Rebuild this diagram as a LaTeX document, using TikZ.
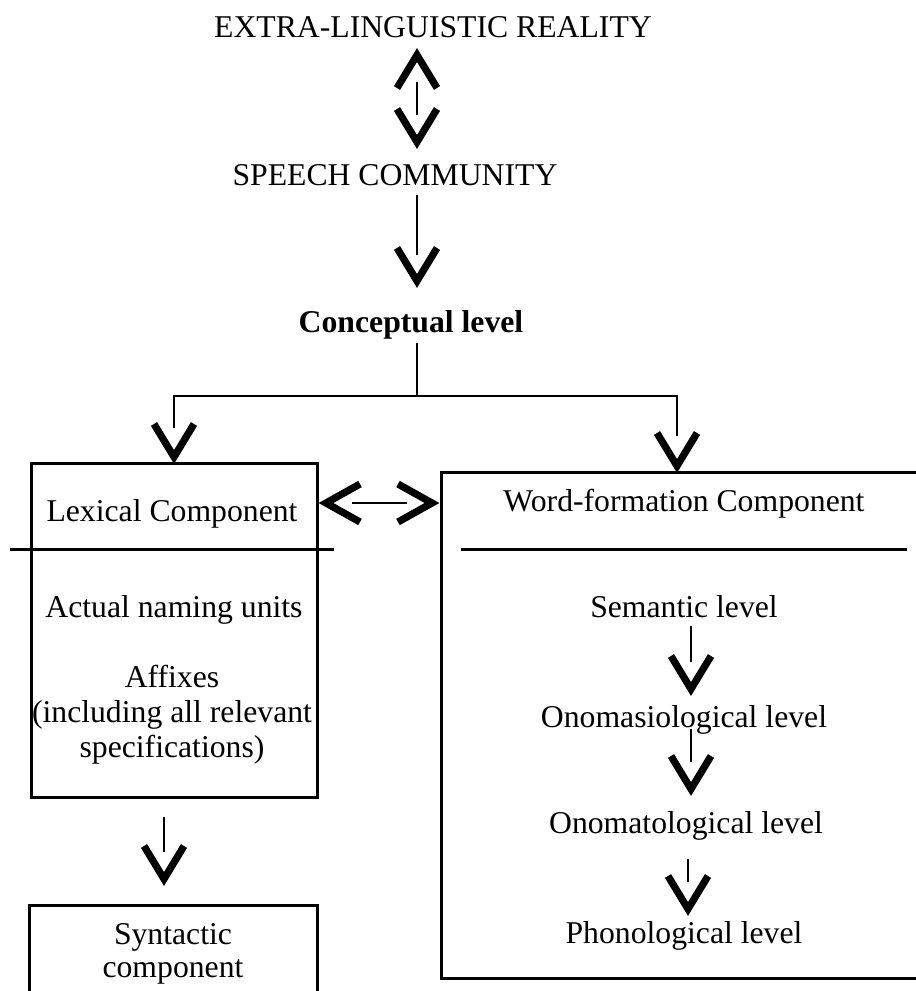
\documentclass[tikz,border=0pt]{standalone}
\usepackage{fontspec}
\setmainfont{Liberation Serif}
\usetikzlibrary{calc}
\tikzset{
  lbl/.style={inner sep=0pt, anchor=base, font=\fontsize{15.85pt}{17.5pt}\selectfont, align=center},
  boxline/.style={line width=1.5pt},
  shaft/.style={line width=1pt},
  vhead/.style={line width=3.6pt, line join=miter, line cap=butt},
}
\newcommand\vdown[1]{\draw[vhead] ($(#1)+(-20,-39)$) -- ($(#1)+(0,-6)$) -- ($(#1)+(20,-39)$);}
\newcommand\vup[1]{\draw[vhead] ($(#1)+(-20,39)$) -- ($(#1)+(0,6)$) -- ($(#1)+(20,39)$);}
\newcommand\vleft[1]{\draw[vhead] ($(#1)+(40,-19)$) -- ($(#1)+(6,0)$) -- ($(#1)+(40,19)$);}
\newcommand\vright[1]{\draw[vhead] ($(#1)+(-40,-19)$) -- ($(#1)+(-6,0)$) -- ($(#1)+(-40,19)$);}
\begin{document}
\begin{tikzpicture}[x=0.5pt,y=-0.5pt]
\useasboundingbox (0,0) rectangle (916,991);

% text nodes
\node[lbl] (elr) at (433,37) {EXTRA-LINGUISTIC REALITY};
\node[lbl] (sc) at (395,185) {SPEECH COMMUNITY};
\node[lbl, font=\fontsize{15.85pt}{17.5pt}\selectfont\bfseries] (cl) at (411,332) {Conceptual level};
\node[lbl] (lex) at (172,521) {Lexical Component};
\node[lbl] (anu) at (174,617) {Actual naming units};
\node[lbl] (aff) at (172,757) {Affixes\\(including all relevant\\specifications)};
\node[lbl, font=\fontsize{15.85pt}{16.5pt}\selectfont] (syn) at (173,977) {Syntactic\\component};
\node[lbl] (wf) at (684,511) {Word-formation Component};
\node[lbl] (sem) at (684,617) {Semantic level};
\node[lbl] (ono) at (684,727) {Onomasiological level};
\node[lbl] (onm) at (686,833) {Onomatological level};
\node[lbl] (pho) at (684,943) {Phonological level};

% coordinates
\coordinate (t1) at (417,49);
\coordinate (t1a) at (417,82);
\coordinate (t1b) at (417,115);
\coordinate (t2) at (417,148);
\coordinate (s1) at (417,195);
\coordinate (s2) at (417,255);
\coordinate (t3) at (417,287);
\coordinate (c1) at (417,343);
\coordinate (c2) at (417,396);
\coordinate (cl1) at (174,396);
\coordinate (cl2) at (174,428);
\coordinate (t4) at (174,463);
\coordinate (cr1) at (677,396);
\coordinate (cr2) at (677,436);
\coordinate (t5) at (677,472);
\coordinate (hl) at (320,503);
\coordinate (h1) at (352,503);
\coordinate (h2) at (407,503);
\coordinate (hr) at (438,503);
\coordinate (b1) at (164,817);
\coordinate (b2) at (164,852);
\coordinate (t6) at (164,885);
\coordinate (r1a) at (691,626);
\coordinate (r1b) at (691,662);
\coordinate (t7) at (691,695);
\coordinate (r2a) at (691,729);
\coordinate (r2b) at (691,762);
\coordinate (t8) at (691,795);
\coordinate (r3a) at (688,859);
\coordinate (r3b) at (688,882);
\coordinate (t9) at (688,915);

% boxes
\draw[boxline] (31,463) rectangle (317,797);
\draw[boxline] (10,549) -- (334,549);
\draw[boxline] (29,995) |- (317,905) -- (317,995);
\draw[boxline] (920,472) -| (441,978) -- (920,978);
\draw[boxline] (461,549) -- (907,549);

% top double arrow
\vup{t1}
\draw[shaft] (t1a) -- (t1b);
\vdown{t2}
% speech -> conceptual
\draw[shaft] (s1) -- (s2);
\vdown{t3}
% branch
\draw[shaft] (c1) -- (c2);
\draw[shaft] (cl2) -- (cl1) -- (cr1) -- (cr2);
\vdown{t4}
\vdown{t5}
% horizontal double arrow
\vleft{hl}
\draw[shaft] (h1) -- (h2);
\vright{hr}
% lexical -> syntactic
\draw[shaft] (b1) -- (b2);
\vdown{t6}
% right column
\draw[shaft] (r1a) -- (r1b);
\vdown{t7}
\draw[shaft] (r2a) -- (r2b);
\vdown{t8}
\draw[shaft] (r3a) -- (r3b);
\vdown{t9}
\end{tikzpicture}
\end{document}
